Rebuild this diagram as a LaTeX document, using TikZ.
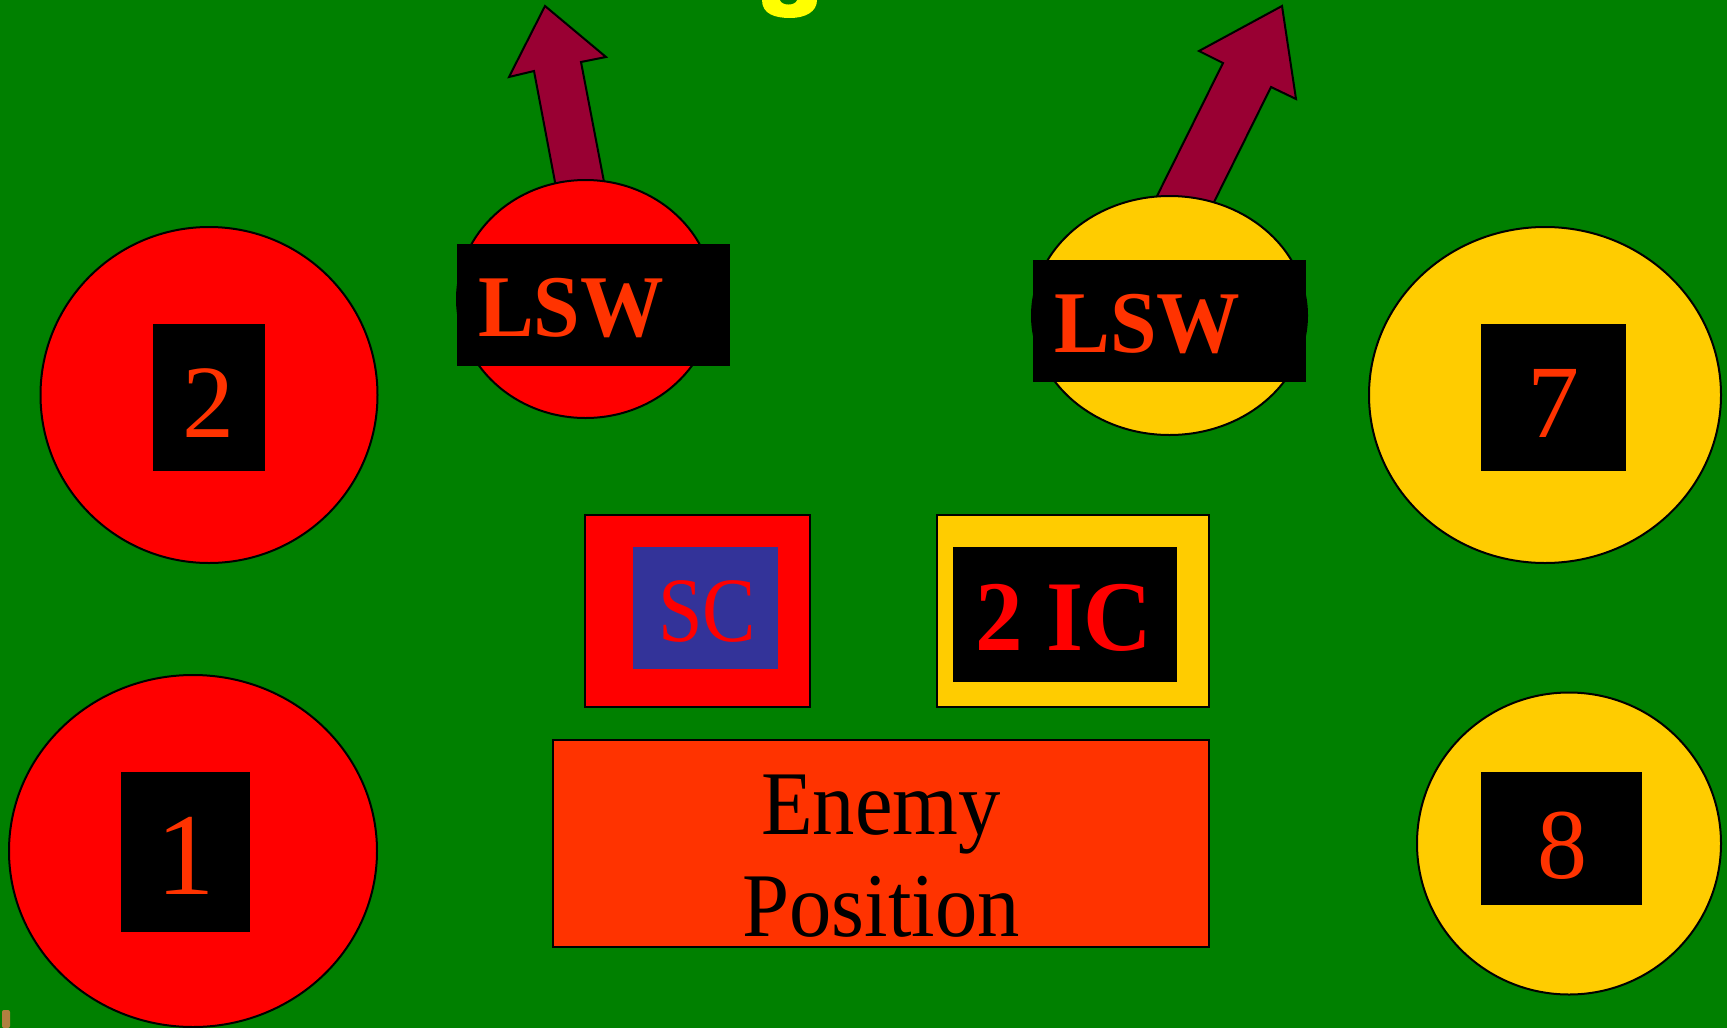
\documentclass[tikz,border=0pt]{standalone}
\usepackage{fontspec}
\setmainfont{Liberation Serif}
\usetikzlibrary{shapes.geometric}
\definecolor{bg}{HTML}{008000}
\definecolor{redc}{HTML}{FF0000}
\definecolor{yel}{HTML}{FFCC00}
\definecolor{orng}{HTML}{FF3300}
\definecolor{wine}{HTML}{990033}
\definecolor{navy}{HTML}{333399}
\definecolor{brite}{HTML}{FFFF00}
\definecolor{brn}{HTML}{B08040}
\tikzset{
 disc/.style={ellipse, draw=black, line width=2pt, inner sep=0pt},
 blk/.style={rectangle, fill=black, inner sep=0pt},
 arrowshape/.style={fill=wine, draw=black, line width=2pt, line join=miter},
 boxed/.style={rectangle, draw=black, line width=2pt, inner sep=0pt},
 txt/.style={inner sep=0pt, anchor=base},
}
\begin{document}
\begin{tikzpicture}[x=1pt,y=-1pt]
\useasboundingbox (0,0) rectangle (1727,1028);
\fill[bg] (0,0) rectangle (1727,1028);
% clipped marks at the edges
\fill[brite] (762,0) .. controls (762,14) and (775,18) .. (790,18) .. controls (805,18) and (817,12) .. (817,0) -- cycle;
\fill[bg] (780,0) .. controls (782,6) and (795,6) .. (797,0) -- cycle;
\fill[brn, rounded corners=2pt] (2,1010) rectangle (10,1028);
% arrows
\draw[arrowshape] (545,6) -- (606,57) -- (581,62) -- (607.5,200) -- (558.4,200) -- (534,71) -- (509,77) -- cycle;
\draw[arrowshape] (1282,6) -- (1296,99) -- (1271,87) -- (1207.6,215) -- (1147.6,215) -- (1223,63) -- (1199,51) -- cycle;
% circles
\node[disc, fill=redc, minimum width=337pt, minimum height=336pt] (c2) at (209,395) {};
\node[disc, fill=redc, minimum width=368pt, minimum height=352pt] (c1) at (193,851) {};
\node[disc, fill=yel, minimum width=352pt, minimum height=336pt] (c7) at (1545,395) {};
\node[disc, fill=yel, minimum width=304pt, minimum height=302pt] (c8) at (1569,843.5) {};
\node[disc, fill=redc, minimum width=257pt, minimum height=238pt] (cL) at (585.5,299) {};
\node[disc, fill=yel, minimum width=275pt, minimum height=239pt] (cR) at (1169.5,315.5) {};
% black label plates
\node[blk, minimum width=112pt, minimum height=147pt] (b2) at (209,397.5) {};
\node[blk, minimum width=129pt, minimum height=160pt] (b1) at (185.5,852) {};
\node[blk, minimum width=145pt, minimum height=147pt] (b7) at (1553.5,397.5) {};
\node[blk, minimum width=161pt, minimum height=133pt] (b8) at (1561.5,838.5) {};
\node[blk, minimum width=273pt, minimum height=122pt] (bL) at (593.5,305) {};
\node[blk, minimum width=273pt, minimum height=122pt] (bR) at (1169.5,321) {};
% boxes
\node[boxed, fill=redc, minimum width=225pt, minimum height=192pt] (scbox) at (697.5,611) {};
\node[rectangle, fill=navy, inner sep=0pt, minimum width=145pt, minimum height=122pt] (scin) at (705.5,608) {};
\node[boxed, fill=yel, minimum width=272pt, minimum height=192pt] (icbox) at (1073,611) {};
\node[blk, minimum width=224pt, minimum height=135pt] (icin) at (1065,614.5) {};
\node[boxed, fill=orng, minimum width=656pt, minimum height=207pt] (enemy) at (881,843.5) {};
% texts
\node[txt, text=orng, font=\fontsize{104}{104}\selectfont] (t2) at (208,437) {2};
\node[txt, text=orng, font=\fontsize{117}{117}\selectfont] (t1) at (185.5,894) {1};
\node[txt, text=orng, font=\fontsize{104}{104}\selectfont] (t7) at (1553,437) {7};
\node[txt, text=orng, font=\fontsize{100}{100}\selectfont] (t8) at (1562,878) {8};
\node[txt, text=orng, font=\fontsize{88}{88}\selectfont] (tL) at (571,336) {\scalebox{0.95}[1]{\textbf{LSW}}};
\node[txt, text=orng, font=\fontsize{88}{88}\selectfont] (tR) at (1147.5,352) {\scalebox{0.95}[1]{\textbf{LSW}}};
\node[txt, text=redc, font=\fontsize{92}{92}\selectfont] (tsc) at (707,641) {\scalebox{0.87}[1]{SC}};
\node[txt, text=redc, font=\fontsize{100}{100}\selectfont] (tic) at (1064,650) {\scalebox{0.95}[1]{\textbf{2 IC}}};
\node[txt, text=black, font=\fontsize{91}{102}\selectfont] (ten) at (881,834) {\scalebox{0.93}[1]{\begin{tabular}[t]{@{}c@{}}Enemy\\Position\end{tabular}}};
\end{tikzpicture}
\end{document}
